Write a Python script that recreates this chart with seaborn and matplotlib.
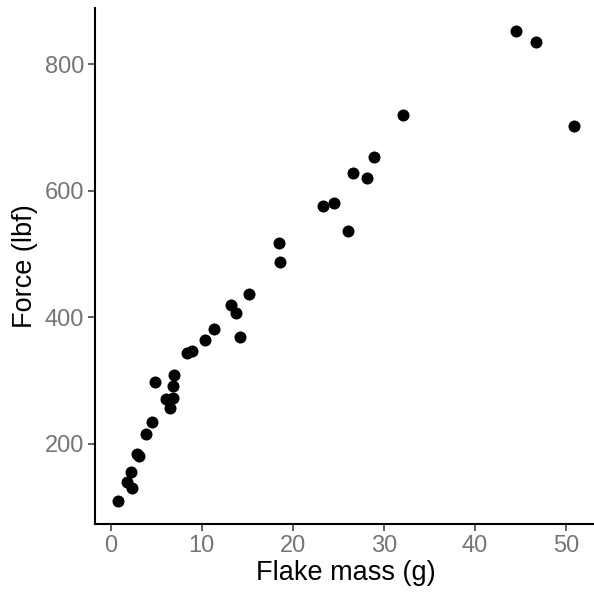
import matplotlib
matplotlib.use("Agg")
import matplotlib.pyplot as plt
import seaborn as sns
import pandas as pd

flake_mass = [0.8, 1.8, 2.3, 2.2, 2.9, 3.1, 3.9, 4.5, 4.9, 6.1, 6.5, 6.9, 6.8, 7.0,
              8.4, 8.9, 10.4, 11.4, 13.2, 13.8, 14.2, 15.2, 18.5, 18.6, 23.3, 24.5,
              26.1, 26.6, 28.2, 28.9, 32.1, 44.5, 46.7, 50.9]
force = [110, 140, 130, 155, 184, 181, 216, 235, 298, 270, 256, 272, 292, 308,
         343, 347, 364, 382, 419, 407, 368, 436, 517, 487, 576, 581,
         536, 628, 621, 653, 720, 852, 835, 702]
x_ticks = [0, 10, 20, 30, 40, 50]
y_ticks = [200, 400, 600, 800]

df = pd.DataFrame({"mass": flake_mass, "force": force})

sns.set_theme(style="ticks")
plt.rcParams['font.family'] = ['Liberation Sans', 'DejaVu Sans']

fig = plt.figure(figsize=(5.94, 5.94), dpi=100)
ax = fig.add_axes([0.16, 0.1178, 0.845, 0.8687])
sns.scatterplot(data=df, x="mass", y="force", ax=ax, color="black", s=75,
                linewidth=0, clip_on=False)

xr = max(flake_mass) - min(flake_mass)
yr = max(force) - min(force)
ax.set_xlim(min(flake_mass) - 0.05 * xr, max(flake_mass) + 0.05 * xr)
ax.set_ylim(min(force) - 0.05 * yr, max(force) + 0.05 * yr)
ax.set_xticks(x_ticks)
ax.set_yticks(y_ticks)
ax.set_xlabel("Flake mass (g)", fontsize=19.5, color="black", labelpad=2.5)
ax.set_ylabel("Force (lbf)", fontsize=19.5, color="black", labelpad=5)
ax.tick_params(axis="both", labelsize=17, labelcolor="#757575", color="#444444",
               length=4.7, width=1.2, pad=3)
for side in ["top", "right"]:
    ax.spines[side].set_visible(False)
for side in ["left", "bottom"]:
    ax.spines[side].set_linewidth(1.5)
    ax.spines[side].set_color("black")

fig.savefig("out.png", dpi=100)
